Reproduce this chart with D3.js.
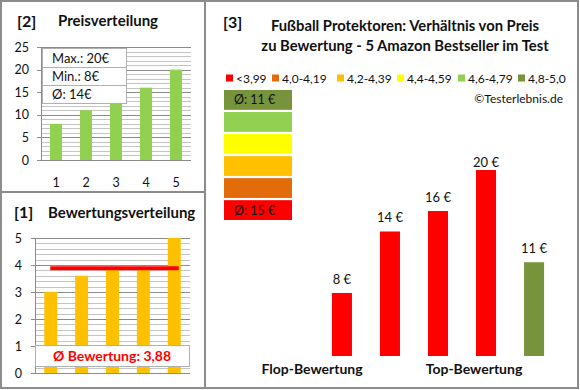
<!DOCTYPE html>
<html>
<head>
<meta charset="utf-8">
<script src="https://cdn.jsdelivr.net/npm/d3@7"></script>
<style>
  body { margin: 0; background: #fff; }
  text { font-family: Lato, "Open Sans", sans-serif; fill: #111; }
</style>
</head>
<body>
<svg id="chart" width="580" height="390"></svg>
<script>
// Data
var products = ['1', '2', '3', '4', '5'];
var prices = [8, 11, 14, 16, 20];
var ratings = [3.0, 3.6, 3.9, 3.9, 5.0];
var avgRating = 3.88;
var priceTicks = [0, 5, 10, 15, 20, 25];
var ratingTicks = [0, 1, 2, 3, 4, 5];
var priceBoxLines = ['Max.: 20€', 'Min.: 8€', 'Ø: 14€'];

var rankPrices = [8, 14, 16, 20, 11];
var rankColors = ['#ff0000', '#ff0000', '#ff0000', '#ff0000', '#77933c'];
var rankLabels = ['8 €', '14 €', '16 €', '20 €', '11 €'];

var legendNames = ['<3,99', '4,0-4,19', '4,2-4,39', '4,4-4,59', '4,6-4,79', '4,8-5,0'];
var legendColors = ['#ff0000', '#e36c0a', '#ffc000', '#ffff00', '#92d050', '#77933c'];
var scaleBlockText = ['Ø: 11 €', '', '', '', '', 'Ø: 15 €'];

var svg = d3.select('#chart');
var frameColor = '#8c8c8c';

/*************************************************/
// frames
svg.append('rect').attr('x', 1).attr('y', 1).attr('width', 577).attr('height', 387)
   .style('fill', 'none').style('stroke', frameColor).style('stroke-width', 2);
svg.append('line').attr('x1', 205).attr('x2', 205).attr('y1', 1).attr('y2', 388)
   .style('stroke', frameColor).style('stroke-width', 2);
svg.append('line').attr('x1', 1).attr('x2', 205).attr('y1', 192).attr('y2', 192)
   .style('stroke', frameColor).style('stroke-width', 2);

/*************************************************/
// helper: grid with minor and major lines
function drawGrid(g, y, x0, x1, minorTicks, majorTicks){
  g.selectAll('.minor').data(minorTicks).enter().append('line')
    .attr('x1', x0).attr('x2', x1)
    .attr('y1', function(d){ return Math.round(y(d)) + 0.5 }).attr('y2', function(d){ return Math.round(y(d)) + 0.5 })
    .style('stroke', '#c4c4c4');
  g.selectAll('.major').data(majorTicks).enter().append('line')
    .attr('x1', x0 - 4).attr('x2', x1)
    .attr('y1', function(d){ return Math.round(y(d)) + 0.5 }).attr('y2', function(d){ return Math.round(y(d)) + 0.5 })
    .style('stroke', '#8c8c8c');
  g.append('line').attr('x1', x0 + 0.5).attr('x2', x0 + 0.5)
    .attr('y1', y(y.domain()[1])).attr('y2', y(0))
    .style('stroke', '#8c8c8c');
}

/*************************************************/
// Panel [2] Preisverteilung
var p2 = svg.append('g');
p2.append('text').attr('x', 17).attr('y', 27).style('font-size', '16px').style('font-weight', 'bold').text('[2]');
p2.append('text').attr('x', 58).attr('y', 26).style('font-size', '15px').style('font-weight', 'bold').text('Preisverteilung');

var x2 = d3.scaleBand().domain(products).range([41, 191]).paddingInner(0.6).paddingOuter(0.3);
var y2 = d3.scaleLinear().domain([0, 25]).range([160, 47]);
drawGrid(p2, y2, 41, 191, d3.range(0, 26, 1), priceTicks);

p2.selectAll('.bar').data(prices).enter().append('rect')
  .attr('x', function(d, i){ return x2(products[i]) })
  .attr('width', x2.bandwidth())
  .attr('y', function(d){ return y2(d) })
  .attr('height', function(d){ return y2(0) - y2(d) })
  .style('fill', '#92d050');

p2.selectAll('.ylab').data(priceTicks).enter().append('text')
  .attr('x', 29).attr('y', function(d){ return y2(d) + 4.5 })
  .style('text-anchor', 'end').style('font-size', '12.5px').text(function(d){ return d });
p2.selectAll('.xlab').data(products).enter().append('text')
  .attr('x', function(d){ return x2(d) + x2.bandwidth() / 2 }).attr('y', 187)
  .style('text-anchor', 'middle').style('font-size', '12.5px').text(function(d){ return d });

var boxRows = [48, 67, 85, 103];
p2.selectAll('.box').data(priceBoxLines).enter().append('rect')
  .attr('x', 42.5).attr('width', 84)
  .attr('y', function(d, i){ return boxRows[i] + 0.5 })
  .attr('height', function(d, i){ return boxRows[i + 1] - boxRows[i] })
  .style('fill', '#fff').style('stroke', '#b0b0b0');
p2.selectAll('.boxt').data(priceBoxLines).enter().append('text')
  .attr('x', 52).attr('y', function(d, i){ return (boxRows[i] + boxRows[i + 1]) / 2 + 5 })
  .style('font-size', '13px').text(function(d){ return d });

/*************************************************/
// Panel [1] Bewertungsverteilung
var p1 = svg.append('g');
p1.append('text').attr('x', 14).attr('y', 218).style('font-size', '16px').style('font-weight', 'bold').text('[1]');
p1.append('text').attr('x', 48).attr('y', 218).style('font-size', '15px').style('font-weight', 'bold').text('Bewertungsverteilung');

var x1 = d3.scaleBand().domain(products).range([35, 190]).paddingInner(0.58).paddingOuter(0.3);
var y1 = d3.scaleLinear().domain([0, 5]).range([373, 238]);
drawGrid(p1, y1, 35, 190, d3.range(0, 5.01, 0.2), ratingTicks);

p1.selectAll('.bar').data(ratings).enter().append('rect')
  .attr('x', function(d, i){ return x1(products[i]) })
  .attr('width', x1.bandwidth())
  .attr('y', function(d){ return y1(d) })
  .attr('height', function(d){ return y1(0) - y1(d) })
  .style('fill', '#ffc000');

p1.append('line')
  .attr('x1', x1(products[0]) + 6).attr('x2', x1(products[4]) + x1.bandwidth() - 2)
  .attr('y1', y1(avgRating)).attr('y2', y1(avgRating))
  .style('stroke', '#ff0000').style('stroke-width', 4);

p1.selectAll('.ylab').data(ratingTicks).enter().append('text')
  .attr('x', 22).attr('y', function(d){ return y1(d) + 4.5 })
  .style('text-anchor', 'end').style('font-size', '12.5px').text(function(d){ return d });

p1.append('rect').attr('x', 35.5).attr('y', 345.5).attr('width', 154).attr('height', 21)
  .style('fill', '#fff').style('stroke', '#b0b0b0');
p1.append('text').attr('x', 112).attr('y', 361).style('text-anchor', 'middle')
  .style('font-size', '14px').style('font-weight', 'bold').style('fill', '#ff0000')
  .text('Ø Bewertung: ' + String(avgRating).replace('.', ','));

/*************************************************/
// Panel [3] Preis / Bewertung
var p3 = svg.append('g');
p3.append('text').attr('x', 223).attr('y', 28).style('font-size', '16px').style('font-weight', 'bold').text('[3]');
p3.append('text').attr('x', 405).attr('y', 31).style('text-anchor', 'middle')
  .style('font-size', '14.8px').style('font-weight', 'bold').text('Fußball Protektoren: Verhältnis von Preis');
p3.append('text').attr('x', 405).attr('y', 51).style('text-anchor', 'middle')
  .style('font-size', '14.8px').style('font-weight', 'bold').text('zu Bewertung - 5 Amazon Bestseller im Test');

// legend
var legendX = [226, 272, 337, 397, 458, 518];
var leg = p3.selectAll('.leg').data(legendNames).enter().append('g')
  .attr('transform', function(d, i){ return 'translate(' + legendX[i] + ',78)' });
leg.append('rect').attr('x', 0).attr('y', -3.5).attr('width', 7).attr('height', 7)
  .style('fill', function(d, i){ return legendColors[i] });
leg.append('text').attr('x', 10).attr('y', 4.5).style('font-size', '12px').text(function(d){ return d });

p3.append('text').attr('x', 563).attr('y', 103).style('text-anchor', 'end').style('font-size', '12px').text('©Testerlebnis.de');

// colour scale blocks, best at top
var blockColors = legendColors.slice().reverse();
var yBlock = d3.scaleBand().domain(d3.range(6)).range([90, 220]).paddingInner(0.1);
p3.selectAll('.block').data(blockColors).enter().append('rect')
  .attr('x', 224).attr('width', 68)
  .attr('y', function(d, i){ return yBlock(i) }).attr('height', yBlock.bandwidth())
  .style('fill', function(d){ return d });
p3.selectAll('.blockt').data(scaleBlockText).enter().append('text')
  .attr('x', 234).attr('y', function(d, i){ return yBlock(i) + yBlock.bandwidth() / 2 + 4.5 })
  .style('font-size', '12.5px').text(function(d){ return d });

// bars
var x3 = d3.scaleBand().domain(d3.range(5)).range([318, 558]).paddingInner(0.583).paddingOuter(0.29);
var y3 = d3.scaleLinear().domain([1.85, 20]).range([356, 170]);
p3.selectAll('.bar').data(rankPrices).enter().append('rect')
  .attr('x', function(d, i){ return x3(i) })
  .attr('width', x3.bandwidth())
  .attr('y', function(d){ return y3(d) })
  .attr('height', function(d){ return y3(y3.domain()[0]) - y3(d) })
  .style('fill', function(d, i){ return rankColors[i] });
p3.selectAll('.val').data(rankPrices).enter().append('text')
  .attr('x', function(d, i){ return x3(i) + x3.bandwidth() / 2 })
  .attr('y', function(d){ return Math.max(y3(d) - 9, 167) })
  .style('text-anchor', 'middle').style('font-size', '13px').text(function(d, i){ return rankLabels[i] });

p3.append('text').attr('x', 312).attr('y', 374).style('text-anchor', 'middle')
  .style('font-size', '14px').style('font-weight', 'bold').text('Flop-Bewertung');
p3.append('text').attr('x', 474).attr('y', 374).style('text-anchor', 'middle')
  .style('font-size', '14px').style('font-weight', 'bold').text('Top-Bewertung');
</script>
</body>
</html>
